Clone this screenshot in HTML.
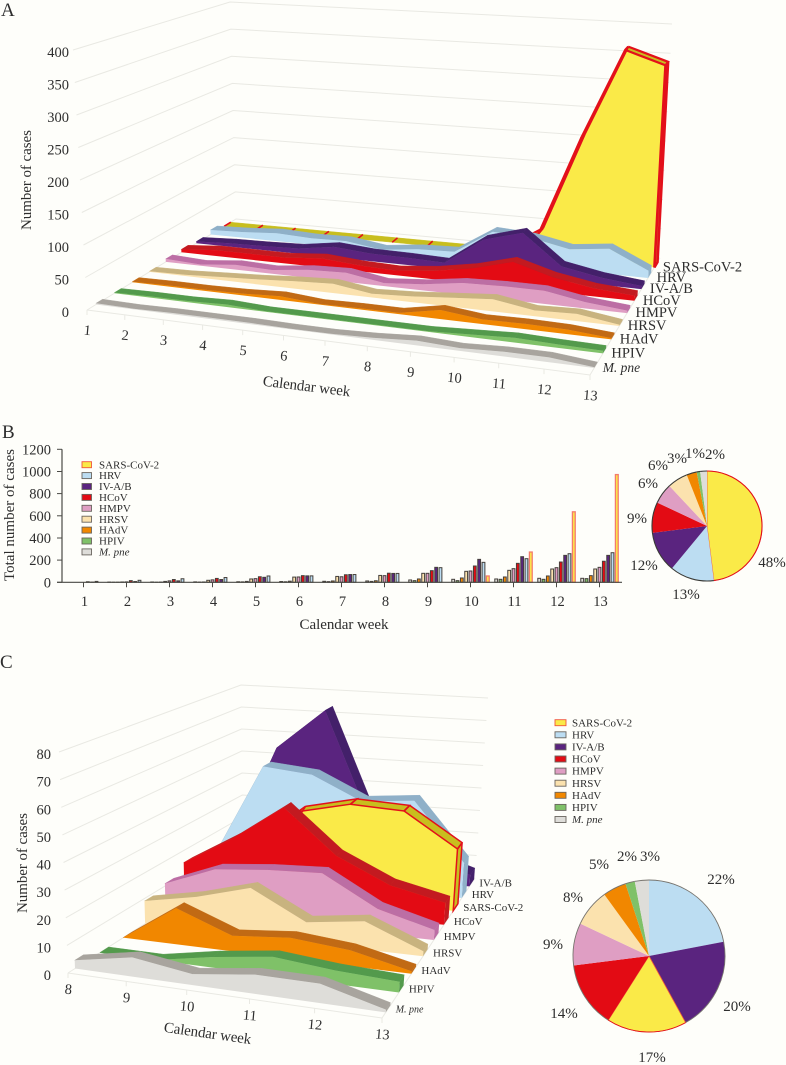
<!DOCTYPE html>
<html lang="en">
<head>
<meta charset="utf-8">
<title>Respiratory pathogen cases by calendar week</title>
<style>
html,body{margin:0;padding:0;background:#FEFEFA;}
svg{display:block;font-family:"Liberation Serif",serif;fill:#2e2e2e;}
text{fill:#2e2e2e;}
</style>
</head>
<body>
<svg id="chart" width="786" height="1065" viewBox="0 0 786 1065" xmlns="http://www.w3.org/2000/svg">
  <rect x="0" y="0" width="786" height="1065" fill="#FEFEFA"/>
  <g id="layer-a"></g>
  <g id="layer-b"></g>
  <g id="layer-b-pie"></g>
  <g id="layer-c"></g>
  <g id="layer-c-pie"></g>
  <text x="1" y="16" font-size="19">A</text>
  <text x="2" y="438" font-size="19">B</text>
  <text x="0" y="668" font-size="19">C</text>
  <text x="0" y="0" font-size="15" text-anchor="middle" transform="translate(31 180) rotate(-90)" textLength="100">Number of cases</text>
  <text x="0" y="0" font-size="15" text-anchor="middle" transform="translate(306 391) rotate(7)" textLength="88">Calendar week</text>
  <text x="0" y="0" font-size="15" text-anchor="middle" transform="translate(14 515) rotate(-90)" textLength="132">Total number of cases</text>
  <text x="344" y="629" font-size="15" text-anchor="middle" textLength="89">Calendar week</text>
  <text x="0" y="0" font-size="15" text-anchor="middle" transform="translate(27 863) rotate(-90)" textLength="100">Number of cases</text>
  <text x="0" y="0" font-size="15" text-anchor="middle" transform="translate(207 1038) rotate(8)" textLength="88">Calendar week</text>
</svg>
<script>
/* ---------- categories ---------- */
const weeksA = [1,2,3,4,5,6,7,8,9,10,11,12,13];
const weeksC = [8,9,10,11,12,13];
const ticksA = [0,50,100,150,200,250,300,350,400];
const ticksB = [0,200,400,600,800,1000,1200];
const ticksC = [0,10,20,30,40,50,60,70,80];
const legendKeys = ['sars','hrv','iv','hcov','hmpv','hrsv','hadv','hpiv','mpne'];
const legendLabels = ['SARS-CoV-2','HRV','IV-A/B','HCoV','HMPV','HRSV','HAdV','HPIV','M. pne'];

/* ---------- panel A: weekly counts ---------- */
const aSars = [0,0,0,0,0,0,0,0,0,40,208,362,340];
const aHrv  = [8,10,14,11,12,3,10,12,52,48,35,42,12];
const aIv   = [3,6,7,9,18,13,12,10,55,73,24,12,5];
const aHcov = [5,10,10,10,15,10,8,14,25,42,24,13,8];
const aHmpv = [5,2,8,6,13,15,5,10,19,21,21,10,4];
const aHrsv = [1,2,5,8,12,15,6,9,14,19,9,11,2];
const aHadv = [1,2,2,3,6,1,2,2,14,7,8,7,2];
const aHpiv = [1,2,2,4,1,1,1,1,1,4,7,5,4];
const aMpne = [2,1,2,2,2,1,1,3,7,4,7,7,1];

/* ---------- panel B: cumulative totals ---------- */
const bSars = [0,0,0,0,0,0,0,0,0,57,273,636,972];
const bHrv  = [8,18,32,43,57,58,70,80,132,180,213,258,267];
const bIv   = [2,7,13,25,45,58,70,80,135,207,231,243,243];
const bHcov = [5,15,25,35,50,60,68,82,105,147,171,183,190];
const bHmpv = [0,4,13,22,33,48,50,60,81,102,123,132,135];
const bHrsv = [0,3,8,18,30,47,53,62,81,99,108,120,120];
const bHadv = [0,1,2,3,8,10,12,14,30,39,48,57,60];
const bHpiv = [0,1,1,2,4,5,6,8,15,15,27,27,33];
const bMpne = [0,2,3,4,5,7,9,12,21,27,30,36,36];
const pieBValues = [48,13,12,9,6,6,3,1,2];

/* ---------- panel C: weekly counts, weeks 8-13 ---------- */
const cIv   = [10,55,73,24,12,5];
const cHrv  = [12,50,48,38,40,15];
const cSars = [0,0,36,41,40,26];
const cHcov = [15,27,42,24,14,9];
const cHmpv = [11,19,21,22,10,4];
const cHrsv = [9,13,19,8,11,2];
const cHadv = [0,14,6,8,6,1];
const cHpiv = [0,0,4,7,5,4];
const cMpne = [3,7,4,7,7,1];
const pieCValues = [22,20,17,14,9,8,5,2,3];

/* ---------- styling ---------- */
const faceColor = {sars:'#FAEA48',hrv:'#BCDDF2',iv:'#5A247F',hcov:'#E30B14',hmpv:'#DF9EC3',hrsv:'#FBE2AE',hadv:'#F18700',hpiv:'#7FC168',mpne:'#DEDDD9'};
const topColor  = {sars:'#C8BE1E',hrv:'#8FB0C8',iv:'#43206A',hcov:'#C31A20',hmpv:'#BC6EA4',hrsv:'#C8B37F',hadv:'#C16A14',hpiv:'#539A4C',mpne:'#A8A49E'};
const RED = '#E3101A';
const GRID = '#E9E9E3';
const NS = 'http://www.w3.org/2000/svg';

function make(tag, parent){
  const el = document.createElementNS(NS, tag);
  parent.appendChild(el);
  return el;
}
function pointsAttr(list){
  return list.map(function(p){ return p[0].toFixed(1)+','+p[1].toFixed(1); }).join(' ');
}
function lerp(a,b,k){ return [a[0]+(b[0]-a[0])*k, a[1]+(b[1]-a[1])*k]; }

/* ---------- 3D axis functions ---------- */
const panelA = {
  id:'panel-a', vmax:400, xWarp:.12, dWarp:.18, thick:.045, d0:.06, span:.86,
  FL:[87,310], FR:[590,375], BL:[236,219], BR:[660,258],
  UFL:[-14,-260], UFR:[25,-280], UBL:[-6,-217], UBR:[12,-234],
  labelDx:8.5, labelDy:4, labelSize:14.5, tickSize:14.5, tickRight:69, tickDrop:25, weekRot:5
};
const panelC = {
  id:'panel-c', vmax:80, xWarp:.1, dWarp:.3, thick:.05, d0:.04, span:.9,
  FL:[68,973], FR:[382,1018], BL:[243,861], BR:[475,878],
  UFL:[-9,-221], UFR:[14,-224], UBL:[-2,-176], UBR:[13,-180],
  labelDx:10, labelDy:0, labelSize:11, tickSize:14.5, tickRight:51, tickDrop:21, weekRot:5
};
function weekScale(panel, index, count){
  const t = index/(count-1);
  return t*(1+panel.xWarp*t)/(1+panel.xWarp);
}
function depthScale(panel, slot){
  const u = slot/8;
  return panel.d0 + panel.span*u*(1+panel.dWarp-panel.dWarp*u);
}
function project(panel, tw, d, v){
  const base = lerp(lerp(panel.FL,panel.FR,tw), lerp(panel.BL,panel.BR,tw), d);
  const up = lerp(lerp(panel.UFL,panel.UFR,tw), lerp(panel.UBL,panel.UBR,tw), d);
  const k = v/panel.vmax;
  return [base[0]+up[0]*k, base[1]+up[1]*k];
}

function drawWalls(panel, group, ticks, weeks){
  ticks.forEach(function(tick){
    const a = project(panel,0,0,tick), b = project(panel,0,1,tick), c = project(panel,1,1,tick);
    const line = make('polyline',group);
    
    
    line.setAttribute('points', pointsAttr([a,b,c]));
    line.setAttribute('fill','none');
    line.setAttribute('stroke',GRID);
    line.setAttribute('stroke-width','1');
    const label = make('text',group);
    
    
    label.setAttribute('x', panel.tickRight);
    label.setAttribute('y', (a[1]+7).toFixed(1));
    label.setAttribute('text-anchor','end');
    label.setAttribute('font-size', panel.tickSize);
    label.textContent = tick;
  });
  const floor = make('polyline',group);
  
  
  floor.setAttribute('points', pointsAttr([panel.FL,panel.FR,panel.BR]));
  floor.setAttribute('fill','none');
  floor.setAttribute('stroke',GRID);
  floor.setAttribute('stroke-width','1');
  weeks.forEach(function(week,i){
    const p = project(panel, weekScale(panel,i,weeks.length), 0, 0);
    const tick = make('line',group);
    
    
    tick.setAttribute('x1',p[0].toFixed(1));
    tick.setAttribute('y1',p[1].toFixed(1));
    tick.setAttribute('x2',p[0].toFixed(1));
    tick.setAttribute('y2',(p[1]+5).toFixed(1));
    tick.setAttribute('stroke',GRID);
    const label = make('text',group);
    
    
    const ly = p[1]+panel.tickDrop;
    label.setAttribute('x',p[0].toFixed(1));
    label.setAttribute('y',ly.toFixed(1));
    label.setAttribute('text-anchor','middle');
    label.setAttribute('font-size',panel.tickSize);
    label.setAttribute('transform','rotate('+panel.weekRot+' '+p[0].toFixed(1)+' '+ly.toFixed(1)+')');
    label.textContent = week;
  });
}

function drawSlab(panel, group, key, labelText, slot, values){
  const n = values.length;
  const d = depthScale(panel,slot);
  const dBack = d+panel.thick;
  const tw = values.map(function(_,i){ return weekScale(panel,i,n); });
  const front = values.map(function(v,i){ return project(panel,tw[i],d,v); });
  const back = values.map(function(v,i){ return project(panel,tw[i],dBack,v); });
  const isSars = key==='sars';

  for(let i=0;i<n-1;i++){
    const quad = make('polygon',group);
    
    
    quad.setAttribute('points', pointsAttr([front[i],front[i+1],back[i+1],back[i]]));
    quad.setAttribute('fill',topColor[key]);
    quad.setAttribute('stroke',topColor[key]);
    quad.setAttribute('stroke-width','.4');
  }
  const cap = make('polygon',group);
  
  
  cap.setAttribute('points', pointsAttr([front[n-1],back[n-1],project(panel,1,dBack,0),project(panel,1,d,0)]));
  cap.setAttribute('fill',topColor[key]);

  const face = make('polygon',group);
  
  
  face.setAttribute('points', pointsAttr(front.concat([project(panel,1,d,0),project(panel,0,d,0)])));
  face.setAttribute('fill',faceColor[key]);

  if(isSars){
    for(let i=0;i<n;i++){
      const crossing = make('line',group);
      
      
      crossing.setAttribute('x1',front[i][0].toFixed(1));
      crossing.setAttribute('y1',front[i][1].toFixed(1));
      crossing.setAttribute('x2',back[i][0].toFixed(1));
      crossing.setAttribute('y2',back[i][1].toFixed(1));
      crossing.setAttribute('stroke',RED);
      crossing.setAttribute('stroke-width','1.6');
    }
    for(let i=0;i<n-1;i++){
      if(values[i]>0 || values[i+1]>0){
        const edge = make('polyline',group);
        
        
        edge.setAttribute('points', pointsAttr([back[i],back[i+1],front[i+1],front[i]]));
        edge.setAttribute('fill','none');
        edge.setAttribute('stroke',RED);
        edge.setAttribute('stroke-width',panel.id==='panel-a'?'2.2':'1.5');
      }
    }
    const side = make('polyline',group);
    
    
    side.setAttribute('points', pointsAttr([back[n-1],project(panel,1,dBack,0),project(panel,1,d,0),front[n-1]]));
    side.setAttribute('fill','none');
    side.setAttribute('stroke',RED);
    side.setAttribute('stroke-width',panel.id==='panel-a'?'2.6':'1.5');
  }

  const anchor = project(panel,1,d,0);
  const label = make('text',group);
  
  
  label.setAttribute('x',(anchor[0]+panel.labelDx).toFixed(1));
  label.setAttribute('y',(anchor[1]+panel.labelDy).toFixed(1));
  label.setAttribute('font-size', key==='mpne' ? panel.labelSize-1 : panel.labelSize);
  if(key==='mpne'){ label.setAttribute('font-style','italic'); }
  label.textContent = labelText;
}

function labelFor(key){ return legendLabels[legendKeys.indexOf(key)]; }

/* ---------- panel A ---------- */
const layerA = document.getElementById('layer-a');
drawWalls(panelA, layerA, ticksA, weeksA);
drawSlab(panelA,layerA,'sars',labelFor('sars'),8,aSars);
drawSlab(panelA,layerA,'hrv',labelFor('hrv'),7,aHrv);
drawSlab(panelA,layerA,'iv',labelFor('iv'),6,aIv);
drawSlab(panelA,layerA,'hcov',labelFor('hcov'),5,aHcov);
drawSlab(panelA,layerA,'hmpv',labelFor('hmpv'),4,aHmpv);
drawSlab(panelA,layerA,'hrsv',labelFor('hrsv'),3,aHrsv);
drawSlab(panelA,layerA,'hadv',labelFor('hadv'),2,aHadv);
drawSlab(panelA,layerA,'hpiv',labelFor('hpiv'),1,aHpiv);
drawSlab(panelA,layerA,'mpne',labelFor('mpne'),0,aMpne);

/* ---------- panel C ---------- */
const layerC = document.getElementById('layer-c');
drawWalls(panelC, layerC, ticksC, weeksC);
drawSlab(panelC,layerC,'iv',labelFor('iv'),8,cIv);
drawSlab(panelC,layerC,'hrv',labelFor('hrv'),7,cHrv);
drawSlab(panelC,layerC,'sars',labelFor('sars'),6,cSars);
drawSlab(panelC,layerC,'hcov',labelFor('hcov'),5,cHcov);
drawSlab(panelC,layerC,'hmpv',labelFor('hmpv'),4,cHmpv);
drawSlab(panelC,layerC,'hrsv',labelFor('hrsv'),3,cHrsv);
drawSlab(panelC,layerC,'hadv',labelFor('hadv'),2,cHadv);
drawSlab(panelC,layerC,'hpiv',labelFor('hpiv'),1,cHpiv);
drawSlab(panelC,layerC,'mpne',labelFor('mpne'),0,cMpne);

/* ---------- panel B bars ---------- */
const layerB = document.getElementById('layer-b');
const barY0 = 582.3, barYTop = 449.3, barX0 = 62, barBand = 43;
function yB(v){ return barY0 - v*(barY0-barYTop)/1200; }
function xB(weekIndex){ return barX0 + barBand*(weekIndex+.5); }
const barSeries = [
  ['mpne',bMpne],['hpiv',bHpiv],['hadv',bHadv],['hrsv',bHrsv],['hmpv',bHmpv],
  ['hcov',bHcov],['iv',bIv],['hrv',bHrv],['sars',bSars]
];
barSeries.forEach(function(entry,k){
  const key = entry[0];
  entry[1].forEach(function(v,w){
    if(v<=0) return;
    const bar = make('rect',layerB);
    
    
    bar.setAttribute('x',(xB(w)+(k-4)*4.33-1.4).toFixed(2));
    bar.setAttribute('y',yB(v).toFixed(2));
    bar.setAttribute('width','2.8');
    bar.setAttribute('height',(barY0-yB(v)).toFixed(2));
    bar.setAttribute('fill',faceColor[key]);
    bar.setAttribute('stroke',key==='sars' ? '#F47B6B' : '#45403B');
    bar.setAttribute('stroke-width',key==='sars' ? '1.3' : '1');
  });
});
const axisYB = make('line',layerB);


axisYB.setAttribute('x1',barX0);
axisYB.setAttribute('y1',barYTop);
axisYB.setAttribute('x2',barX0);
axisYB.setAttribute('y2',barY0);
axisYB.setAttribute('stroke','#4a4a45');
axisYB.setAttribute('stroke-width','1.2');
const axisXB = make('line',layerB);


axisXB.setAttribute('x1',barX0-5);
axisXB.setAttribute('y1',barY0);
axisXB.setAttribute('x2',barX0+barBand*13+1);
axisXB.setAttribute('y2',barY0);
axisXB.setAttribute('stroke','#4a4a45');
axisXB.setAttribute('stroke-width','1.2');
ticksB.forEach(function(tick){
  const mark = make('line',layerB);
  
  
  mark.setAttribute('x1',barX0-5);
  mark.setAttribute('x2',barX0);
  mark.setAttribute('y1',yB(tick).toFixed(1));
  mark.setAttribute('y2',yB(tick).toFixed(1));
  mark.setAttribute('stroke','#4a4a45');
  const label = make('text',layerB);
  
  
  label.setAttribute('x',barX0-11);
  label.setAttribute('y',(yB(tick)+5).toFixed(1));
  label.setAttribute('text-anchor','end');
  label.setAttribute('font-size','14.5');
  label.textContent = tick;
});
weeksA.forEach(function(week,w){
  const mark = make('line',layerB);
  
  
  mark.setAttribute('x1',xB(w).toFixed(1));
  mark.setAttribute('x2',xB(w).toFixed(1));
  mark.setAttribute('y1',barY0);
  mark.setAttribute('y2',barY0+5);
  mark.setAttribute('stroke','#4a4a45');
  const label = make('text',layerB);
  
  
  label.setAttribute('x',(xB(w)+1).toFixed(1));
  label.setAttribute('y','606');
  label.setAttribute('text-anchor','middle');
  label.setAttribute('font-size','14.5');
  label.textContent = week;
});

/* ---------- legends ---------- */
function drawLegend(group, prefix, swatchX, textX, firstY, stepY, swatchW){
  legendKeys.forEach(function(key,i){
    const cy = firstY + stepY*i;
    const swatch = make('rect',group);
    
    
    swatch.setAttribute('x',swatchX);
    swatch.setAttribute('y',(cy-3).toFixed(1));
    swatch.setAttribute('width',swatchW);
    swatch.setAttribute('height','6');
    swatch.setAttribute('fill',faceColor[key]);
    swatch.setAttribute('stroke',key==='sars' ? '#F0563C' : '#6A655E');
    swatch.setAttribute('stroke-width','.9');
    const label = make('text',group);
    
    
    label.setAttribute('x',textX);
    label.setAttribute('y',(cy+3.6).toFixed(1));
    label.setAttribute('font-size','11');
    if(key==='mpne'){ label.setAttribute('font-style','italic'); }
    label.textContent = legendLabels[i];
  });
}
drawLegend(layerB,'panel-b',82,99,464.7,10.9,9.5);

/* ---------- pies ---------- */
function drawPie(group, prefix, keys, values, cx, cy, r, strokeColor, strokeWidth, spots){
  const total = values.reduce(function(a,b){ return a+b; },0);
  let acc = 0;
  values.forEach(function(v,i){
    const a0 = acc/total*Math.PI*2;
    acc += v;
    const a1 = acc/total*Math.PI*2;
    const x0 = cx+r*Math.sin(a0), y0 = cy-r*Math.cos(a0);
    const x1 = cx+r*Math.sin(a1), y1 = cy-r*Math.cos(a1);
    const large = (a1-a0)>Math.PI ? 1 : 0;
    const arcPart = 'A'+r+','+r+' 0 '+large+' 1 '+x1.toFixed(2)+','+y1.toFixed(2);
    const slice = make('path',group);
    
    
    slice.setAttribute('d','M'+cx+','+cy+' L'+x0.toFixed(2)+','+y0.toFixed(2)+' '+arcPart+' Z');
    slice.setAttribute('fill',faceColor[keys[i]]);
    if(keys[i]==='sars'){
      slice.setAttribute('stroke','#F0563C');
      slice.setAttribute('stroke-width','.8');
    }
    const rim = make('path',group);
    
    
    rim.setAttribute('d','M'+x0.toFixed(2)+','+y0.toFixed(2)+' '+arcPart);
    rim.setAttribute('fill','none');
    rim.setAttribute('stroke',keys[i]==='sars' ? RED : strokeColor);
    rim.setAttribute('stroke-width',strokeWidth);
    const label = make('text',group);
    
    
    label.setAttribute('x',spots[i][0]);
    label.setAttribute('y',spots[i][1]+5);
    label.setAttribute('text-anchor','middle');
    label.setAttribute('font-size','15');
    label.textContent = v+'%';
  });
}
drawPie(document.getElementById('layer-b-pie'),'panel-b-pie',
  ['sars','hrv','iv','hcov','hmpv','hrsv','hadv','hpiv','mpne'],
  pieBValues,707,526,55,'#3a3a36',1.1,
  [[772,562],[686,594],[644,565],[637,518],[648,483],[658,465],[677,458],[695,453],[715,454]]);
const layerCPie = document.getElementById('layer-c-pie');
drawLegend(layerCPie,'panel-c',555,572,722.7,12.1,11);
drawPie(layerCPie,'panel-c-pie',
  ['hrv','iv','sars','hcov','hmpv','hrsv','hadv','hpiv','mpne'],
  pieCValues,649,956,76,'#77746e',.9,
  [[721,879],[737,1006],[652,1057],[564,1013],[553,944],[573,897],[599,864],[627,856],[650,856]]);
</script>
</body>
</html>
